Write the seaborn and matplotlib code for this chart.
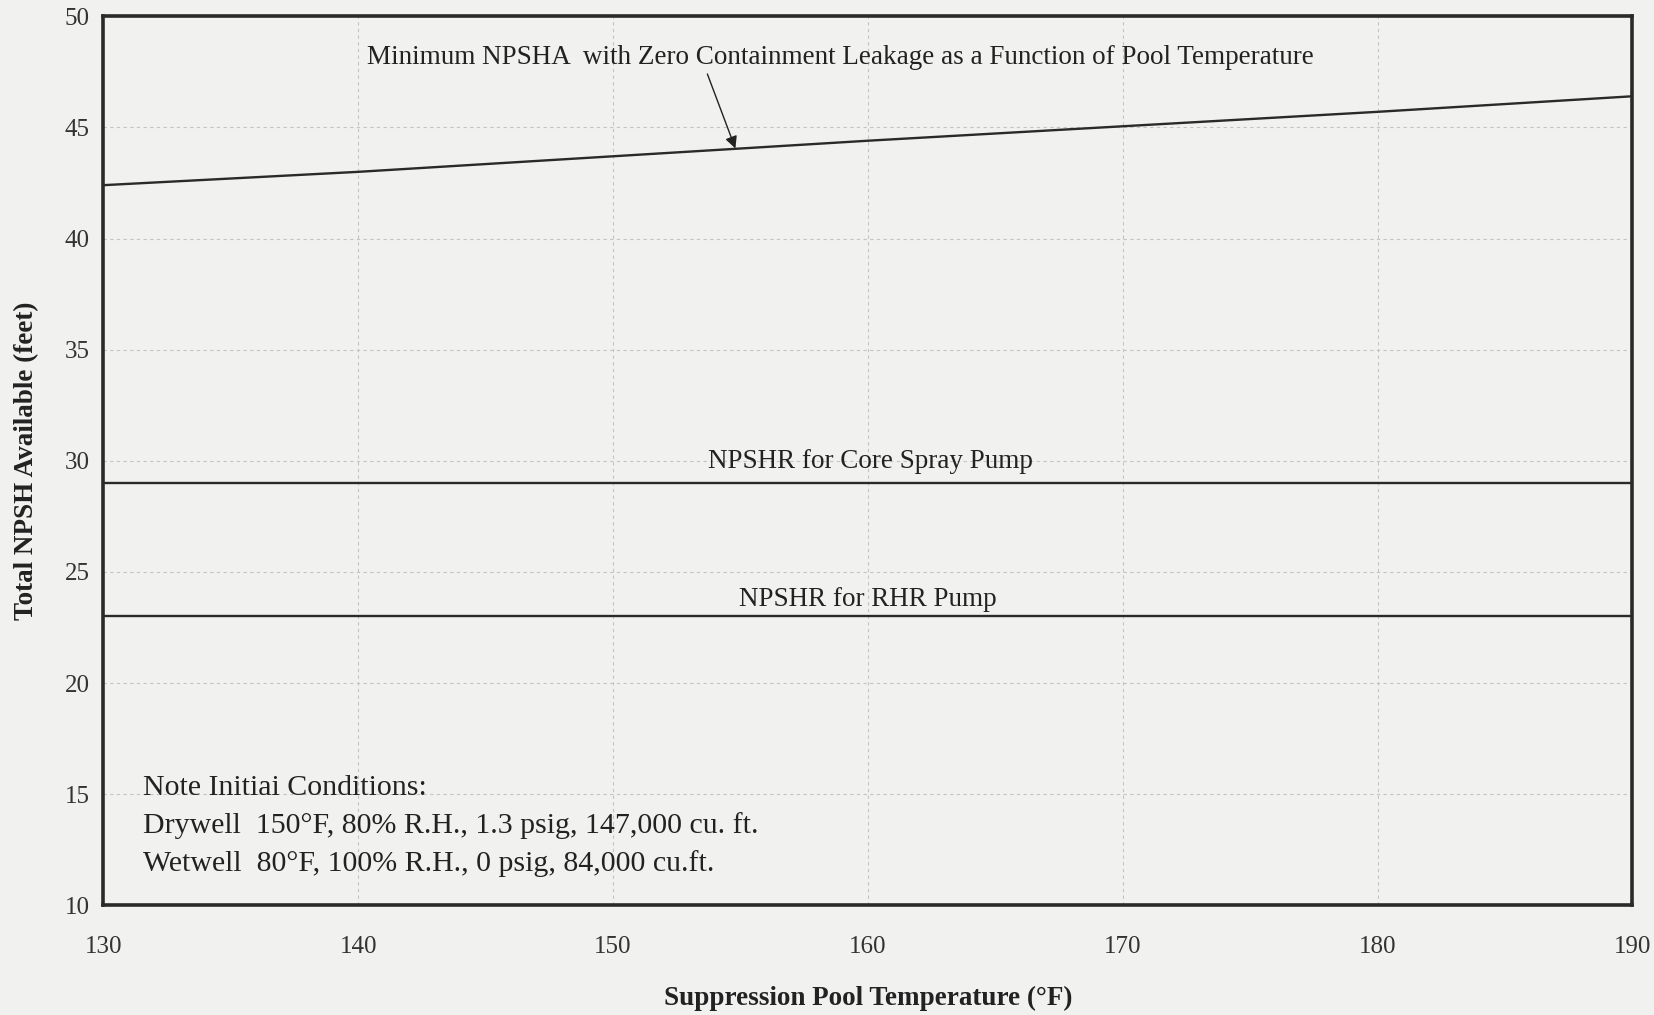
import matplotlib
matplotlib.use("Agg")
import matplotlib.pyplot as plt
import seaborn as sns
import pandas as pd

# Data
temps = [130, 140, 150, 160, 170, 180, 190]
npsha_min = [42.4, 43.0, 43.7, 44.4, 45.05, 45.7, 46.4]
npshr_core_spray = [29, 29, 29, 29, 29, 29, 29]
npshr_rhr = [23, 23, 23, 23, 23, 23, 23]
x_ticks = [130, 140, 150, 160, 170, 180, 190]
y_ticks = [10, 15, 20, 25, 30, 35, 40, 45, 50]

df = pd.DataFrame({
    "temp": temps * 3,
    "npsh": npsha_min + npshr_core_spray + npshr_rhr,
    "series": (["Minimum NPSHA"] * len(temps) + ["Core Spray"] * len(temps)
               + ["RHR"] * len(temps)),
})

sns.set_theme(style="white")
plt.rcParams['font.family'] = ['Liberation Serif', 'DejaVu Serif']
bg = '#f1f1f0'
ink = '#2a2a2a'

fig = plt.figure(figsize=(16.54, 10.15), dpi=100, facecolor=bg)
ax = fig.add_axes([0.0625, 0.108, 0.9245, 0.876])
ax.set_facecolor(bg)

sns.lineplot(data=df, x="temp", y="npsh", hue="series",
             palette={"Minimum NPSHA": ink, "Core Spray": ink, "RHR": ink},
             linewidth=1.7, legend=False, ax=ax, zorder=3)

ax.set_xlim(130, 190)
ax.set_ylim(10, 50)
ax.set_xticks(x_ticks)
ax.set_yticks(y_ticks)
ax.grid(True, color='#c4c4c4', linestyle=(0, (3, 3)), linewidth=0.8)
ax.tick_params(axis='both', which='both', direction='out', length=5, width=1,
               colors='#333333', labelsize=18)
ax.tick_params(axis='y', pad=5)
ax.tick_params(axis='x', pad=17)
for lbl in ax.get_xticklabels() + ax.get_yticklabels():
    lbl.set_color('#333333')
for s in ax.spines.values():
    s.set_linewidth(2.6)
    s.set_color(ink)

ax.set_xlabel("Suppression Pool Temperature (\u00b0F)", fontsize=19.5, fontweight='bold',
              color='#222222', labelpad=20)
ax.set_ylabel("Total NPSH Available (feet)", fontsize=19.5, fontweight='bold',
              color='#222222', labelpad=18)

ax.text(158.9, 48.15, "Minimum NPSHA  with Zero Containment Leakage as a Function of Pool Temperature",
        ha='center', va='center', fontsize=19.5, color='#222222')
ax.annotate("", xy=(154.8, 44.05), xytext=(153.7, 47.4),
            arrowprops=dict(arrowstyle='-|>', color='#222222', lw=1.0,
                            mutation_scale=18, shrinkA=0, shrinkB=0))
ax.text(160.1, 29.95, "NPSHR for Core Spray Pump", ha='center', va='center',
        fontsize=19.5, color='#222222')
ax.text(160.0, 23.75, "NPSHR for RHR Pump", ha='center', va='center',
        fontsize=19.5, color='#222222')

note_lines = ["Note Initiai Conditions:",
              "Drywell  150\u00b0F, 80% R.H., 1.3 psig, 147,000 cu. ft.",
              "Wetwell  80\u00b0F, 100% R.H., 0 psig, 84,000 cu.ft."]
note_y = [15.3, 13.6, 11.9]
for t, yy in zip(note_lines, note_y):
    ax.text(131.55, yy, t, ha='left', va='center', fontsize=21.5, color='#222222')

fig.savefig("out.png", dpi=100, facecolor=bg)
